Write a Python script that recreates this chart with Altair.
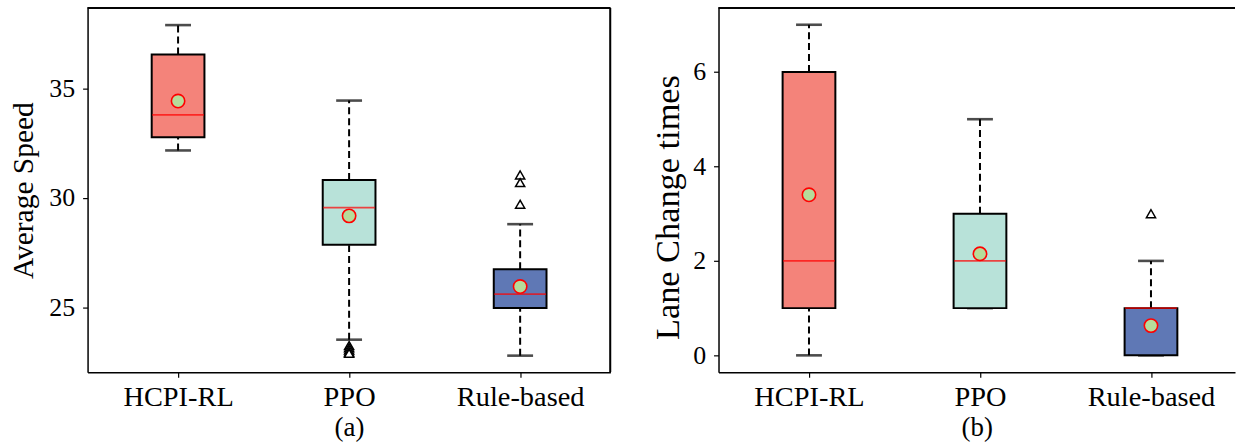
import json
import altair as alt
import pandas as pd

# ---------------- data ----------------
categories = ["HCPI-RL", "PPO", "Rule-based"]
box_colors = ["#F4837A", "#B8E2D9", "#5F78B5"]

# (a) Average Speed
speed_whisker_lo = [32.17, 23.52, 22.79]
speed_q1 = [32.77, 27.86, 24.97]
speed_median = [33.80, 29.56, 25.60]
speed_q3 = [36.56, 30.82, 26.74]
speed_whisker_hi = [37.90, 34.45, 28.80]
speed_mean = [34.43, 29.18, 25.95]
speed_outliers = [[], [23.25, 23.15, 23.05, 22.95, 22.90], [31.05, 30.70, 29.71]]

# (b) Lane Change times
lane_whisker_lo = [0, 1, 0]
lane_q1 = [1, 1, 0]
lane_median = [2, 2, 1]
lane_q3 = [6, 3, 1]
lane_whisker_hi = [7, 5, 2]
lane_mean = [3.40, 2.15, 0.63]
lane_outliers = [[], [], [3]]

FONT = "Liberation Serif"
H = 366
STEP = 175.2


def panel(lo, q1, med, q3, hi, mean, outl, width, y_domain, y_ticks,
          y_title, y_title_size, y_title_pad, y_title_y, sub_title, right_border):
    df = pd.DataFrame({
        "cat": categories,
        "pos": list(range(1, len(categories) + 1)),
        "lo": lo, "q1": q1, "med": med, "q3": q3, "hi": hi, "mean": mean,
    })
    orows = []
    for i, vals in enumerate(outl):
        for v in vals:
            orows.append({"cat": categories[i], "pos": i + 1, "val": v})
    odf = pd.DataFrame(orows if orows else [{"cat": "", "pos": 0, "val": 0}])

    x_max = 0.5 + width / STEP
    label_expr = json.dumps(categories) + "[datum.value - 1]"
    xs = alt.Scale(domain=[0.5, x_max], nice=False, zero=False)
    ys = alt.Scale(domain=y_domain, nice=False, zero=False)
    x_enc = alt.X("pos:Q", scale=xs,
                  axis=alt.Axis(values=[1, 2, 3], labelExpr=label_expr, title=sub_title,
                                grid=False, tickSize=5, labelPadding=5, titlePadding=4,
                                labelFontSize=28.5, titleFontSize=27, titleFontWeight="normal",
                                domainColor="black", domainWidth=1.5, tickColor="black",
                                tickWidth=1.2, labelColor="black", titleColor="black",
                                labelFont=FONT, titleFont=FONT))
    axis_kw = dict(values=y_ticks, title=y_title, grid=False, tickSize=5,
                   labelPadding=8, titlePadding=y_title_pad, labelFontSize=26,
                   titleFontSize=y_title_size, titleFontWeight="normal",
                   domainColor="black", domainWidth=1.5, tickColor="black",
                   tickWidth=1.2, labelColor="black", titleColor="black",
                   labelFont=FONT, titleFont=FONT)
    if y_title_y is not None:
        axis_kw["titleY"] = y_title_y
    y_axis = alt.Axis(**axis_kw)

    base = alt.Chart(df)
    color = alt.Color("cat:N", scale=alt.Scale(domain=categories, range=box_colors), legend=None)

    whisk_lo = base.mark_rule(color="black", strokeWidth=2, strokeDash=[7, 4]).encode(
        x=x_enc, y=alt.Y("lo:Q", scale=ys, axis=y_axis), y2="q1:Q")
    whisk_hi = base.mark_rule(color="black", strokeWidth=2, strokeDash=[7, 4]).encode(
        x="pos:Q", y="q3:Q", y2="hi:Q")
    cap_lo = base.mark_tick(orient="horizontal", size=26, thickness=2.6, color="black").encode(
        x="pos:Q", y="lo:Q")
    cap_hi = base.mark_tick(orient="horizontal", size=26, thickness=2.6, color="black").encode(
        x="pos:Q", y="hi:Q")
    box = base.mark_bar(size=53, stroke="black", strokeWidth=2, opacity=1).encode(
        x="pos:Q", y="q1:Q", y2="q3:Q", color=color)
    median = base.mark_tick(orient="horizontal", size=52, thickness=1.8, color="#FF0000").encode(
        x="pos:Q", y="med:Q")
    mean_pt = base.mark_point(shape="circle", filled=True, fill="#B6DC9A", stroke="#FF0000",
                              strokeWidth=1.6, size=180, opacity=1).encode(
        x="pos:Q", y="mean:Q")
    out_pt = alt.Chart(odf).mark_point(shape="triangle-up", filled=True, fill="white",
                                       stroke="black", strokeWidth=1.5, size=85,
                                       opacity=1).encode(
        x="pos:Q", y="val:Q")
    if not orows:
        out_pt = out_pt.transform_filter("datum.pos > 0")

    top_rule = alt.Chart(df).mark_rule(color="black", strokeWidth=1.5).encode(
        x=alt.value(0), x2=alt.value(width), y=alt.value(0))
    layers = [whisk_lo, whisk_hi, cap_lo, cap_hi, box, median, mean_pt, out_pt, top_rule]
    if right_border:
        layers.append(alt.Chart(df).mark_rule(color="black", strokeWidth=1.5).encode(
            x=alt.value(width), y=alt.value(0), y2=alt.value(H)))
    return alt.layer(*layers).properties(width=width, height=H)


left = panel(speed_whisker_lo, speed_q1, speed_median, speed_q3, speed_whisker_hi,
             speed_mean, speed_outliers, 525.3, [22.03, 38.68], [25, 30, 35],
             "Average Speed", 29.6, 10, None, "(a)", True)
right = panel(lane_whisker_lo, lane_q1, lane_median, lane_q3, lane_whisker_hi,
              lane_mean, lane_outliers, 519, [-0.358, 7.354], [0, 2, 4, 6],
              "Lane Change times", 34.5, 7, 200, "(b)", False)

chart = alt.hconcat(left, right, spacing=38).properties(
    padding={"left": 8, "top": 5, "right": 0, "bottom": 0},
    background="white",
).configure_view(stroke="transparent")

chart.save("out.html", embed_options={"renderer": "svg", "actions": False})
